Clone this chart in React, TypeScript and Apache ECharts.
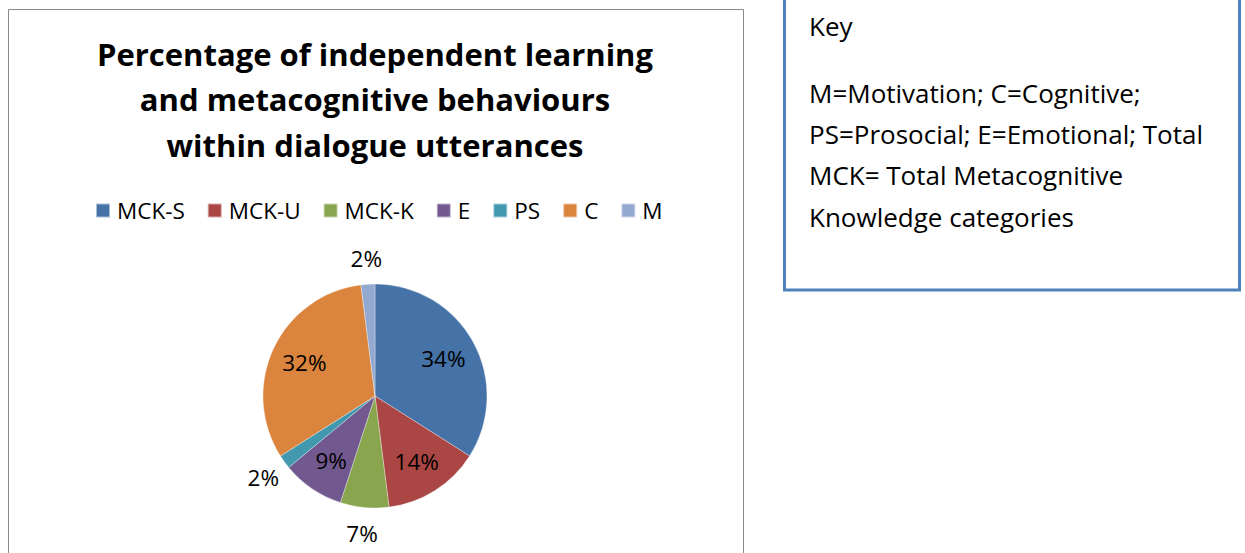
import React, { useEffect, useRef } from "react";
import * as echarts from "echarts";

const categories = ["MCK-S", "MCK-U", "MCK-K", "E", "PS", "C", "M"];
const percentages = [34, 14, 7, 9, 2, 32, 2];
const sliceColors = ["#4572A7", "#AA4643", "#89A54E", "#71588F", "#4198AF", "#DB843D", "#93A9CF"];
const labelInside = [true, true, false, true, false, true, false];
const titleText = "Percentage of independent learning\nand metacognitive behaviours\nwithin dialogue utterances";
const keyHeading = "Key";
const keyLines = [
  "M=Motivation; C=Cognitive;",
  "PS=Prosocial; E=Emotional; Total",
  "MCK= Total Metacognitive",
  "Knowledge categories",
];

const FONT = "'Open Sans', 'Noto Sans', sans-serif";

export default function App() {
  const ref = useRef<HTMLDivElement>(null);
  useEffect(() => {
    if (!ref.current) return;
    const chart = echarts.init(ref.current, null, { renderer: "svg" });
    const baseData = categories.map((name, i) => ({
      name,
      value: percentages[i],
      itemStyle: { color: sliceColors[i] },
    }));
    const overlayData = (inside: boolean) =>
      categories.map((name, i) => ({
        name,
        value: percentages[i],
        itemStyle: { color: "transparent", borderWidth: 0 },
        label: { show: labelInside[i] === inside },
      }));
    const labelStyle = {
      position: "inside",
      formatter: "{c}%",
      color: "#000",
      fontFamily: FONT,
      fontSize: 22.5,
      rotate: 0,
    };
    chart.setOption({
      animation: false,
      backgroundColor: "#ffffff",
      title: {
        text: titleText,
        left: 370,
        top: 26,
        textAlign: "center",
        textStyle: {
          fontFamily: FONT,
          fontSize: 31,
          fontWeight: "bold",
          color: "#000",
          lineHeight: 45.5,
        },
      },
      legend: {
        left: 90,
        top: 194,
        itemWidth: 14,
        itemHeight: 14,
        itemGap: 22,
        icon: "rect",
        data: categories,
        textStyle: { fontFamily: FONT, fontSize: 22.5, color: "#000", padding: [0, 0, 0, 2] },
        selectedMode: false,
      },
      series: [
        {
          type: "pie",
          name: "main",
          center: [375, 396],
          radius: 112,
          startAngle: 90,
          clockwise: true,
          label: { show: false },
          labelLine: { show: false },
          itemStyle: { borderColor: "rgba(255,255,255,0.55)", borderWidth: 0.6 },
          emphasis: { disabled: true },
          data: baseData,
        },
        {
          type: "pie",
          name: "insideLabels",
          center: [375, 396],
          radius: [38, 112],
          startAngle: 90,
          clockwise: true,
          silent: true,
          label: labelStyle,
          labelLine: { show: false },
          emphasis: { disabled: true },
          data: overlayData(true),
        },
        {
          type: "pie",
          name: "outsideLabels",
          center: [375, 396],
          radius: [112, 158],
          startAngle: 90,
          clockwise: true,
          silent: true,
          label: labelStyle,
          labelLine: { show: false },
          emphasis: { disabled: true },
          data: overlayData(false),
        },
      ],
      graphic: [
        {
          type: "rect",
          shape: { x: 8.5, y: 9.5, width: 735, height: 600 },
          style: { fill: "none", stroke: "#8a8a8a", lineWidth: 1 },
          silent: true,
        },
        {
          type: "rect",
          shape: { x: 784.5, y: -10, width: 455, height: 300 },
          style: { fill: "#ffffff", stroke: "#4F81BD", lineWidth: 3 },
          silent: true,
        },
        {
          type: "text",
          x: 809,
          y: 39,
          style: {
            text: keyHeading,
            fill: "#000",
            font: `26px ${FONT}`,
            textVerticalAlign: "bottom",
          },
          silent: true,
        },
        {
          type: "text",
          x: 809,
          y: 72,
          style: {
            text: keyLines.join("\n"),
            fill: "#000",
            font: `26px ${FONT}`,
            lineHeight: 41.3,
          },
          silent: true,
        },
      ],
    });
    return () => chart.dispose();
  }, []);
  return (
    <div
      ref={ref}
      style={{ position: "absolute", left: 0, top: 0, width: 1245, height: 553 }}
    />
  );
}
